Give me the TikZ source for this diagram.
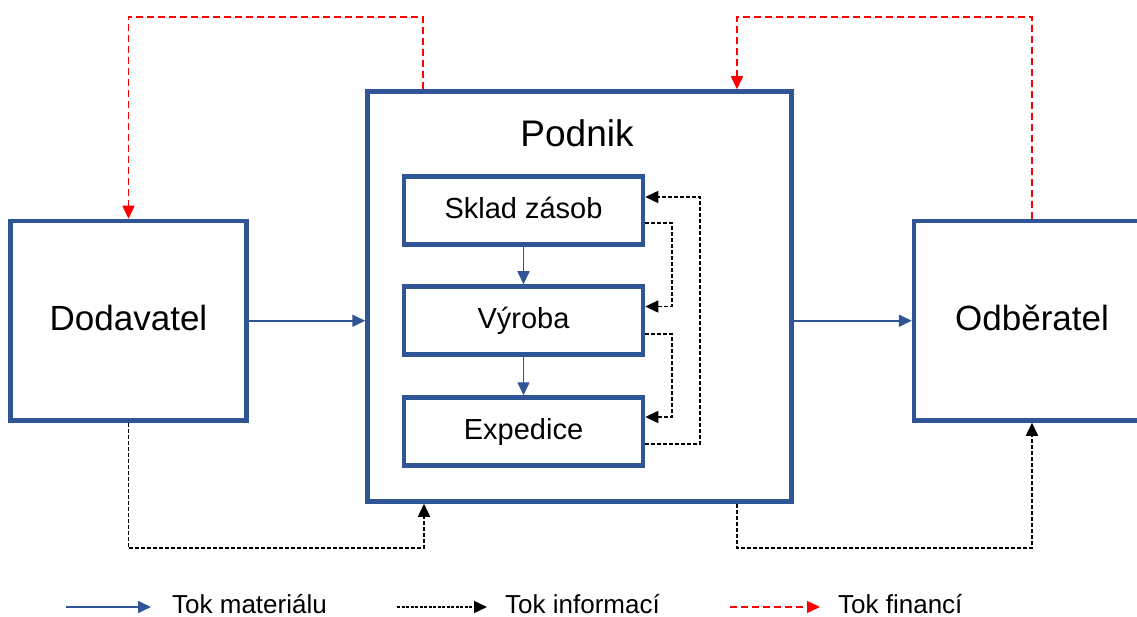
\documentclass[tikz,border=0pt]{standalone}
\usepackage{fontspec}
\setmainfont{Liberation Sans}
\usetikzlibrary{arrows.meta}
\definecolor{boxblue}{RGB}{47,85,151}
\definecolor{finred}{RGB}{255,0,0}

\begin{document}
\begin{tikzpicture}[x=1pt,y=-1pt,
  box/.style={draw=boxblue, line width=4.5pt, fill=white, rectangle, inner sep=0pt},
  partner/.style={box, minimum width=236pt, minimum height=199.5pt,
                  text height=25pt, text depth=6pt,
                  font=\fontsize{35}{42}\selectfont},
  dept/.style={box, minimum width=239pt, minimum height=68pt,
               text height=20.8pt, text depth=4pt,
               font=\fontsize{29}{35}\selectfont},
  tip/.style={-{Triangle[length=13pt,width=12pt]}},
  material/.style={tip, draw=boxblue, line width=1.6pt},
  info/.style={tip, draw=black, line width=1.5pt, dash pattern=on 4pt off 2pt},
  finance/.style={tip, draw=finred, line width=1.5pt, dash pattern=on 7pt off 4pt},
  legendtext/.style={anchor=base west, inner sep=0pt, font=\fontsize{26}{30}\selectfont}
]
\fill[white] (0,0) rectangle (1137,617);
\useasboundingbox (0,0) rectangle (1137,617);

% main blocks
\node[partner] (dod) at (128.5,320.75) {Dodavatel};
\node[partner] (odb) at (1032,320.75) {Odběratel};
\node[box, minimum width=424pt, minimum height=410pt] (podnik) at (579.5,296.5) {};
\node[anchor=base, inner sep=0pt, font=\fontsize{37}{44}\selectfont] (podniklabel) at (577,147) {Podnik};

% departments inside the company
\node[dept] (sklad) at (523.5,210.5) {Sklad zásob};
\node[dept] (vyroba) at (523.5,320.5) {Výroba};
\node[dept] (expedice) at (523.5,431.5) {Expedice};

% material flow
\draw[material] (dod.east) -- (dod.east -| podnik.west);
\draw[material] (podnik.east |- odb.west) -- (odb.west);
\draw[material] (sklad.south) -- (vyroba.north);
\draw[material] (vyroba.south) -- (expedice.north);

% financial flow
\coordinate (fa) at (423,17);
\coordinate (fb) at (128.5,17);
\draw[finance] (podnik.north -| fa) -- (fa) -- (fb) -- (dod.north);
\coordinate (fc) at (1032,17);
\coordinate (fd) at (737,17);
\draw[finance] (odb.north) -- (fc) -- (fd) -- (podnik.north -| fd);

% information flow between partners
\coordinate (ia) at (128.5,548);
\coordinate (ib) at (424,548);
\draw[info] (dod.south) -- (ia) -- (ib) -- (podnik.south -| ib);
\coordinate (ic) at (737,548);
\coordinate (id) at (1032,548);
\draw[info] (podnik.south -| ic) -- (ic) -- (id) -- (odb.south);

% information flow inside the company
\coordinate (ja) at (672,223);
\coordinate (jb) at (672,306.5);
\draw[info] (sklad.east |- ja) -- (ja) -- (jb) -- (vyroba.east |- jb);
\coordinate (jc) at (672,334);
\coordinate (jd) at (672,417);
\draw[info] (vyroba.east |- jc) -- (jc) -- (jd) -- (expedice.east |- jd);
\coordinate (je) at (700,444);
\coordinate (jf) at (700,197);
\draw[info] (expedice.east |- je) -- (je) -- (jf) -- (sklad.east |- jf);

% legend
\coordinate (la) at (66,607);
\coordinate (lb) at (151,607);
\draw[material] (la) -- (lb);
\node[legendtext] (lm) at (172,613) {Tok materiálu};
\coordinate (lc) at (397,607);
\coordinate (ld) at (487,607);
\draw[info, dash pattern=on 3pt off 1.5pt] (lc) -- (ld);
\node[legendtext] (li) at (505,613) {Tok informací};
\coordinate (le) at (730,607);
\coordinate (lf) at (820,607);
\draw[finance] (le) -- (lf);
\node[legendtext] (lf2) at (838,613) {Tok financí};
\end{tikzpicture}
\end{document}
